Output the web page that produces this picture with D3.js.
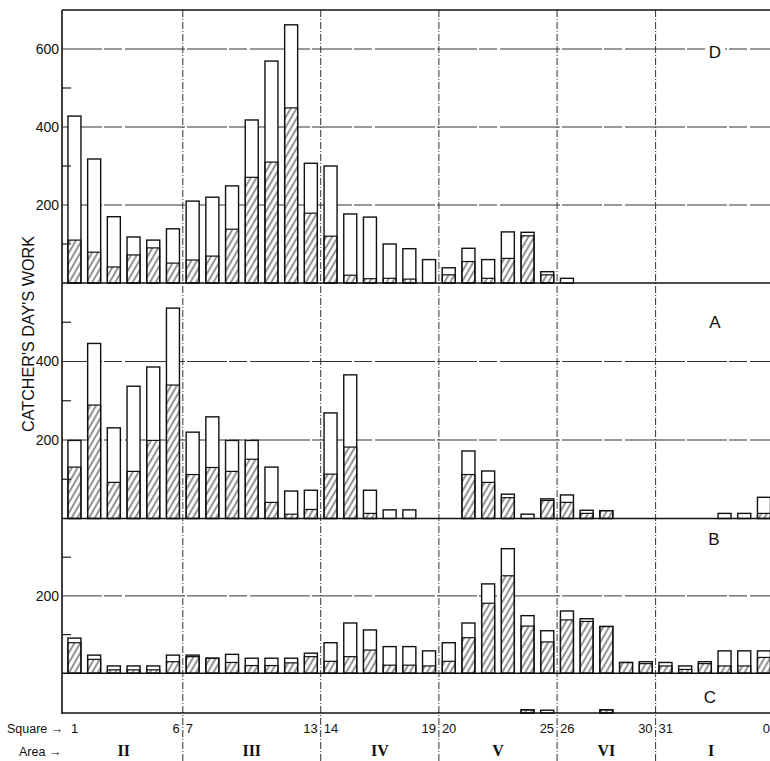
<!DOCTYPE html>
<html>
<head>
<meta charset="utf-8">
<script src="https://cdn.jsdelivr.net/npm/d3@7"></script>
<style>
  html, body { margin: 0; padding: 0; background: #fff; }
  svg { display: block; }
</style>
</head>
<body>
<script>
// ---------------- DATA ----------------
const squares = d3.range(1, 37); // squares 1..36
const squareLabels = [
  {sq: 6, text: "6", side: "end"}, {sq: 7, text: "7", side: "start"},
  {sq: 13, text: "13", side: "end"}, {sq: 14, text: "14", side: "start"},
  {sq: 19, text: "19", side: "end"}, {sq: 20, text: "20", side: "start"},
  {sq: 25, text: "25", side: "end"}, {sq: 26, text: "26", side: "start"},
  {sq: 30, text: "30", side: "end"}, {sq: 31, text: "31", side: "start"}
];
const areaNames = ["II", "III", "IV", "V", "VI", "I"];
const areaFirstSquares = [1, 7, 14, 20, 26, 31];
const areaLastSquares = [6, 13, 19, 25, 30, 36];

// Panel D
const totalD = [428,318,170,118,110,139,210,220,249,418,569,662,307,300,177,169,100,88,60,39,89,60,131,130,29,12,0,0,0,0,0,0,0,0,0,0];
const hatchD = [110,79,41,72,90,51,59,69,138,271,310,449,179,120,20,11,12,10,0,21,55,12,63,121,21,0,0,0,0,0,0,0,0,0,0,0];
// Panel A
const totalA = [199,446,231,337,386,536,220,259,199,199,131,70,72,269,366,72,22,22,0,0,172,121,62,11,50,60,21,20,0,0,0,0,0,13,13,54];
const hatchA = [131,289,92,120,199,340,112,130,120,151,41,11,23,113,182,13,0,0,0,0,112,92,53,0,46,41,13,20,0,0,0,0,0,0,0,13];
// Panel B
const totalB = [91,47,19,19,19,47,47,39,49,39,39,39,52,79,130,112,69,69,58,79,130,231,322,149,110,161,141,121,28,30,28,19,30,58,58,58];
const hatchB = [79,36,9,9,9,30,43,39,28,20,20,27,43,31,43,60,21,21,19,31,92,181,252,122,81,138,134,121,28,25,19,10,25,19,19,41];
// Panel C
const totalC = [0,0,0,0,0,0,0,0,0,0,0,0,0,0,0,0,0,0,0,0,0,0,0,8,7,0,0,8,0,0,0,0,0,0,0,0];
const hatchC = [0,0,0,0,0,0,0,0,0,0,0,0,0,0,0,0,0,0,0,0,0,0,0,8,0,0,0,8,0,0,0,0,0,0,0,0];

const panelNames = ["D", "A", "B", "C"];
const panelMax = [700, 600, 400, 100];
const majorTicks = [[200, 400, 600], [200, 400], [200], []];
const minorTicks = [[100, 300, 500], [100, 300, 500], [100, 300], []];
const yLabel = "CATCHER'S  DAY'S  WORK";

// ---------------- LAYOUT ----------------
const W = 770, H = 761;
const axisX = 62, rightX = 770;
const panelPx = [[10, 283], [283, 518.5], [518.5, 673.3], [673.3, 713]]; // [top, baseline]
const letterPos = [[715, 52], [715, 322], [714, 539], [710, 697]];

const svg = d3.select("body").append("svg").attr("width", W).attr("height", H);

const defs = svg.append("defs");
const pat = defs.append("pattern").attr("id", "hatch")
  .attr("patternUnits", "userSpaceOnUse").attr("width", 5).attr("height", 10)
  .attr("patternTransform", "rotate(30)");
pat.append("line").attr("x1", 1).attr("y1", 0).attr("x2", 1).attr("y2", 10)
  .attr("stroke", "#111").attr("stroke-width", 0.9);

const x = d3.scaleBand().domain(squares).range([64.6, 773.8])
  .paddingInner(0.34).paddingOuter(0.17);
const step = x.step();
const boundary = sq => x(sq) + x.bandwidth() + step * 0.17; // right edge of slot

const panels = [
  {total: totalD, hatch: hatchD},
  {total: totalA, hatch: hatchA},
  {total: totalB, hatch: hatchB},
  {total: totalC, hatch: hatchC}
];

const grid = svg.append("g");
const bars = svg.append("g");
const axes = svg.append("g");

panels.forEach((p, i) => {
  const y = d3.scaleLinear().domain([0, panelMax[i]]).range([panelPx[i][1], panelPx[i][0]]);
  // gridlines
  majorTicks[i].forEach(v => {
    grid.append("line").attr("x1", axisX).attr("x2", rightX)
      .attr("y1", y(v)).attr("y2", y(v))
      .attr("stroke", "#333").attr("stroke-width", 1)
      .attr("stroke-dasharray", "40,2,18,3,60,2");
  });
  // minor ticks
  minorTicks[i].forEach(v => {
    axes.append("line").attr("x1", axisX).attr("x2", axisX + 9)
      .attr("y1", y(v)).attr("y2", y(v)).attr("stroke", "#222").attr("stroke-width", 1.2);
  });
  // tick labels
  const yAxis = d3.axisLeft(y).tickValues(majorTicks[i]).tickSize(0).tickPadding(3).tickFormat(d3.format("d"));
  const ga = axes.append("g").attr("transform", `translate(${axisX},0)`).call(yAxis);
  ga.select(".domain").remove();
  ga.selectAll("text").attr("font-family", "'Liberation Sans', Arial, sans-serif")
    .attr("font-size", 14).attr("fill", "#111");

  // bars
  const data = squares.map((s, k) => ({sq: s, total: p.total[k], hatch: p.hatch[k]})).filter(d => d.total > 0);
  const g = bars.append("g");
  g.selectAll("rect.tot").data(data).join("rect").attr("class", "tot")
    .attr("x", d => x(d.sq)).attr("width", x.bandwidth())
    .attr("y", d => y(d.total)).attr("height", d => y(0) - y(d.total))
    .attr("fill", "#fff").attr("stroke", "#111").attr("stroke-width", 1.4);
  const hd = data.filter(d => d.hatch > 0);
  g.selectAll("rect.hat").data(hd).join("rect").attr("class", "hat")
    .attr("x", d => x(d.sq)).attr("width", x.bandwidth())
    .attr("y", d => y(d.hatch)).attr("height", d => y(0) - y(d.hatch))
    .attr("fill", "url(#hatch)").attr("stroke", "#111").attr("stroke-width", 1.2);

  // baseline
  axes.append("line").attr("x1", axisX).attr("x2", rightX)
    .attr("y1", y(0)).attr("y2", y(0)).attr("stroke", "#111").attr("stroke-width", 1.6);

  // panel letter
  const [lx, ly] = letterPos[i];
  axes.append("rect").attr("x", lx - 10).attr("y", ly - 10).attr("width", 20).attr("height", 20).attr("fill", "#fff");
  axes.append("text").attr("x", lx).attr("y", ly + 6).attr("text-anchor", "middle")
    .attr("font-family", "'Liberation Sans', Arial, sans-serif").attr("font-size", 17).attr("fill", "#111")
    .text(panelNames[i]);
});

// top border & left axis
axes.append("line").attr("x1", axisX).attr("x2", rightX).attr("y1", 10).attr("y2", 10)
  .attr("stroke", "#111").attr("stroke-width", 1.4);
axes.append("line").attr("x1", axisX).attr("x2", axisX).attr("y1", 10).attr("y2", 714)
  .attr("stroke", "#111").attr("stroke-width", 1.6);

// area dividers (dash-dot)
[6, 13, 19, 25, 30].forEach(sq => {
  const bx = boundary(sq);
  grid.append("line").attr("x1", bx).attr("x2", bx).attr("y1", 10).attr("y2", H)
    .attr("stroke", "#333").attr("stroke-width", 1).attr("stroke-dasharray", "7,2,1,2");
});

// y label
svg.append("text")
  .attr("transform", "translate(34,334) rotate(-90)")
  .attr("text-anchor", "middle")
  .attr("font-family", "'Liberation Sans', Arial, sans-serif").attr("font-size", 17)
  .attr("textLength", 196).attr("lengthAdjust", "spacingAndGlyphs")
  .attr("fill", "#111").text(yLabel);

// x labels
const lab = svg.append("g").attr("font-family", "'Liberation Sans', Arial, sans-serif").attr("fill", "#111");
lab.append("text").attr("x", 7).attr("y", 733).attr("font-size", 12.5).text("Square \u2192");
lab.append("text").attr("x", x(1) + 3).attr("y", 733).attr("font-size", 13).text("1");
squareLabels.forEach(d => {
  const bx = d.side === "end" ? boundary(d.sq) - 3 : boundary(d.sq - 1) + 3;
  lab.append("text").attr("x", bx).attr("y", 733).attr("font-size", 13)
    .attr("text-anchor", d.side).text(d.text);
});
lab.append("text").attr("x", 770).attr("y", 733).attr("font-size", 13).attr("text-anchor", "end").text("0");
lab.append("text").attr("x", 19).attr("y", 756).attr("font-size", 12.5).text("Area \u2192");

areaNames.forEach((a, i) => {
  const cx = (x(areaFirstSquares[i]) + x(areaLastSquares[i]) + x.bandwidth()) / 2;
  lab.append("text").attr("x", i === 5 ? 711 : cx).attr("y", 756).attr("text-anchor", "middle")
    .attr("font-family", "'Liberation Serif', 'Times New Roman', serif").attr("font-size", 16)
    .attr("font-weight", "bold").text(a);
});
</script>
</body>
</html>
